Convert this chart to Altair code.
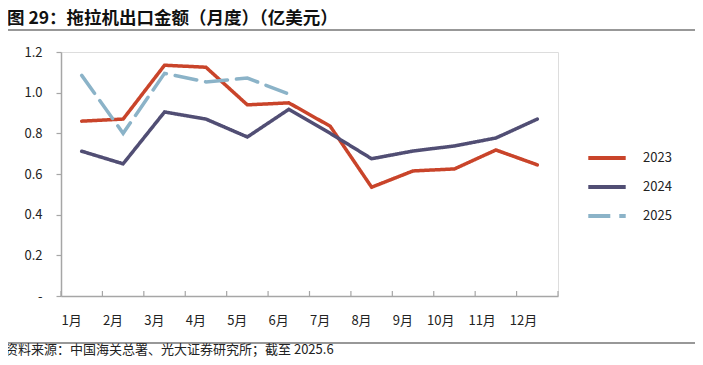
import altair as alt
import pandas as pd

months = ["1月", "2月", "3月", "4月", "5月", "6月", "7月", "8月", "9月", "10月", "11月", "12月"]
v2023 = [0.86, 0.87, 1.135, 1.125, 0.94, 0.95, 0.835, 0.535, 0.615, 0.625, 0.718, 0.645]
v2024 = [0.712, 0.65, 0.905, 0.87, 0.782, 0.918, 0.80, 0.675, 0.713, 0.738, 0.777, 0.87]
v2025 = [1.085, 0.80, 1.095, 1.053, 1.072, 0.993]
years = ["2023", "2024", "2025"]
colors = ["#C9442A", "#514E74", "#8BB3C8"]
dashes = [[1, 0], [1, 0], [22, 9]]

rows = []
for y, vals in zip(years, [v2023, v2024, v2025]):
    for m, v in zip(months, vals):
        rows.append({"month": m, "year": y, "value": v})
df = pd.DataFrame(rows)

FONT = "Noto Sans CJK SC"
W, H = 497, 244

x = alt.X("month:N", sort=months, scale=alt.Scale(paddingInner=0, paddingOuter=0),
          axis=alt.Axis(title=None, ticks=False, domainColor="#A6A6A6", domainWidth=1.5,
                        labelPadding=24, labelFontSize=13, labelColor="#222222", labelFont=FONT,
                        labelAngle=0))
y = alt.Y("value:Q", scale=alt.Scale(domain=[0, 1.2]),
          axis=alt.Axis(title=None, values=[0, 0.2, 0.4, 0.6, 0.8, 1.0, 1.2], grid=False,
                        domainColor="#A6A6A6", domainWidth=1.5, tickColor="#A6A6A6", tickSize=5,
                        tickWidth=1.2, labelPadding=14, labelFontSize=13, labelColor="#222222",
                        labelFont=FONT,
                        labelExpr="datum.value == 0 ? '-' : format(datum.value, '.1f')"))

lines = alt.Chart(df).mark_line(strokeWidth=3.5, strokeCap="round").encode(
    x=x, y=y,
    color=alt.Color("year:N", scale=alt.Scale(domain=years, range=colors),
                    legend=alt.Legend(title=None, orient="none", legendX=525, legendY=85,
                                      symbolType="stroke", symbolSize=1400, symbolStrokeWidth=4,
                                      labelFontSize=13, labelFont=FONT, labelColor="#222222",
                                      rowPadding=0, labelOffset=15, symbolLimit=10)),
    strokeDash=alt.StrokeDash("year:N", scale=alt.Scale(domain=years, range=dashes), legend=None),
)

tick_df = pd.DataFrame({"month": months})
ticks0 = alt.Chart(tick_df).mark_rule(color="#A6A6A6", strokeWidth=1.2).encode(
    x=alt.X("month:N", sort=months, bandPosition=0),
    y=alt.value(H), y2=alt.value(H - 5))
ticks1 = alt.Chart(tick_df[tick_df.month == "12月"]).mark_rule(color="#A6A6A6", strokeWidth=1.2).encode(
    x=alt.X("month:N", sort=months, bandPosition=1),
    y=alt.value(H), y2=alt.value(H - 5))

title = alt.Chart(pd.DataFrame({"t": ["图 29：拖拉机出口金额（月度）（亿美元）"]})).mark_text(
    align="left", baseline="middle", fontSize=17.5, fontWeight="bold", font=FONT, color="#111111"
).encode(text="t:N", x=alt.value(-54), y=alt.value(-33))

top_rule = alt.Chart(pd.DataFrame({"a": [0]})).mark_rule(color="#333333", strokeWidth=1.2).encode(
    x=alt.value(-61), x2=alt.value(634), y=alt.value(-22))
bottom_rule = alt.Chart(pd.DataFrame({"a": [0]})).mark_rule(color="#333333", strokeWidth=1.2).encode(
    x=alt.value(-61), x2=alt.value(634), y=alt.value(291))

footer = alt.Chart(pd.DataFrame({"t": ["资料来源：中国海关总署、光大证券研究所；截至 2025.6"]})).mark_text(
    align="left", baseline="middle", fontSize=13, font=FONT, color="#222222"
).encode(text="t:N", x=alt.value(-56), y=alt.value(298))

chart = alt.layer(ticks0, ticks1, lines, title, top_rule, bottom_rule, footer).properties(
    width=W, height=H,
    autosize=alt.AutoSizeParams(type="none"),
    padding={"left": 53, "top": 44, "right": 137, "bottom": 61},
).configure_view(stroke=None).configure(background="white")

chart.save("out.html", embed_options={"renderer": "svg", "actions": False})
